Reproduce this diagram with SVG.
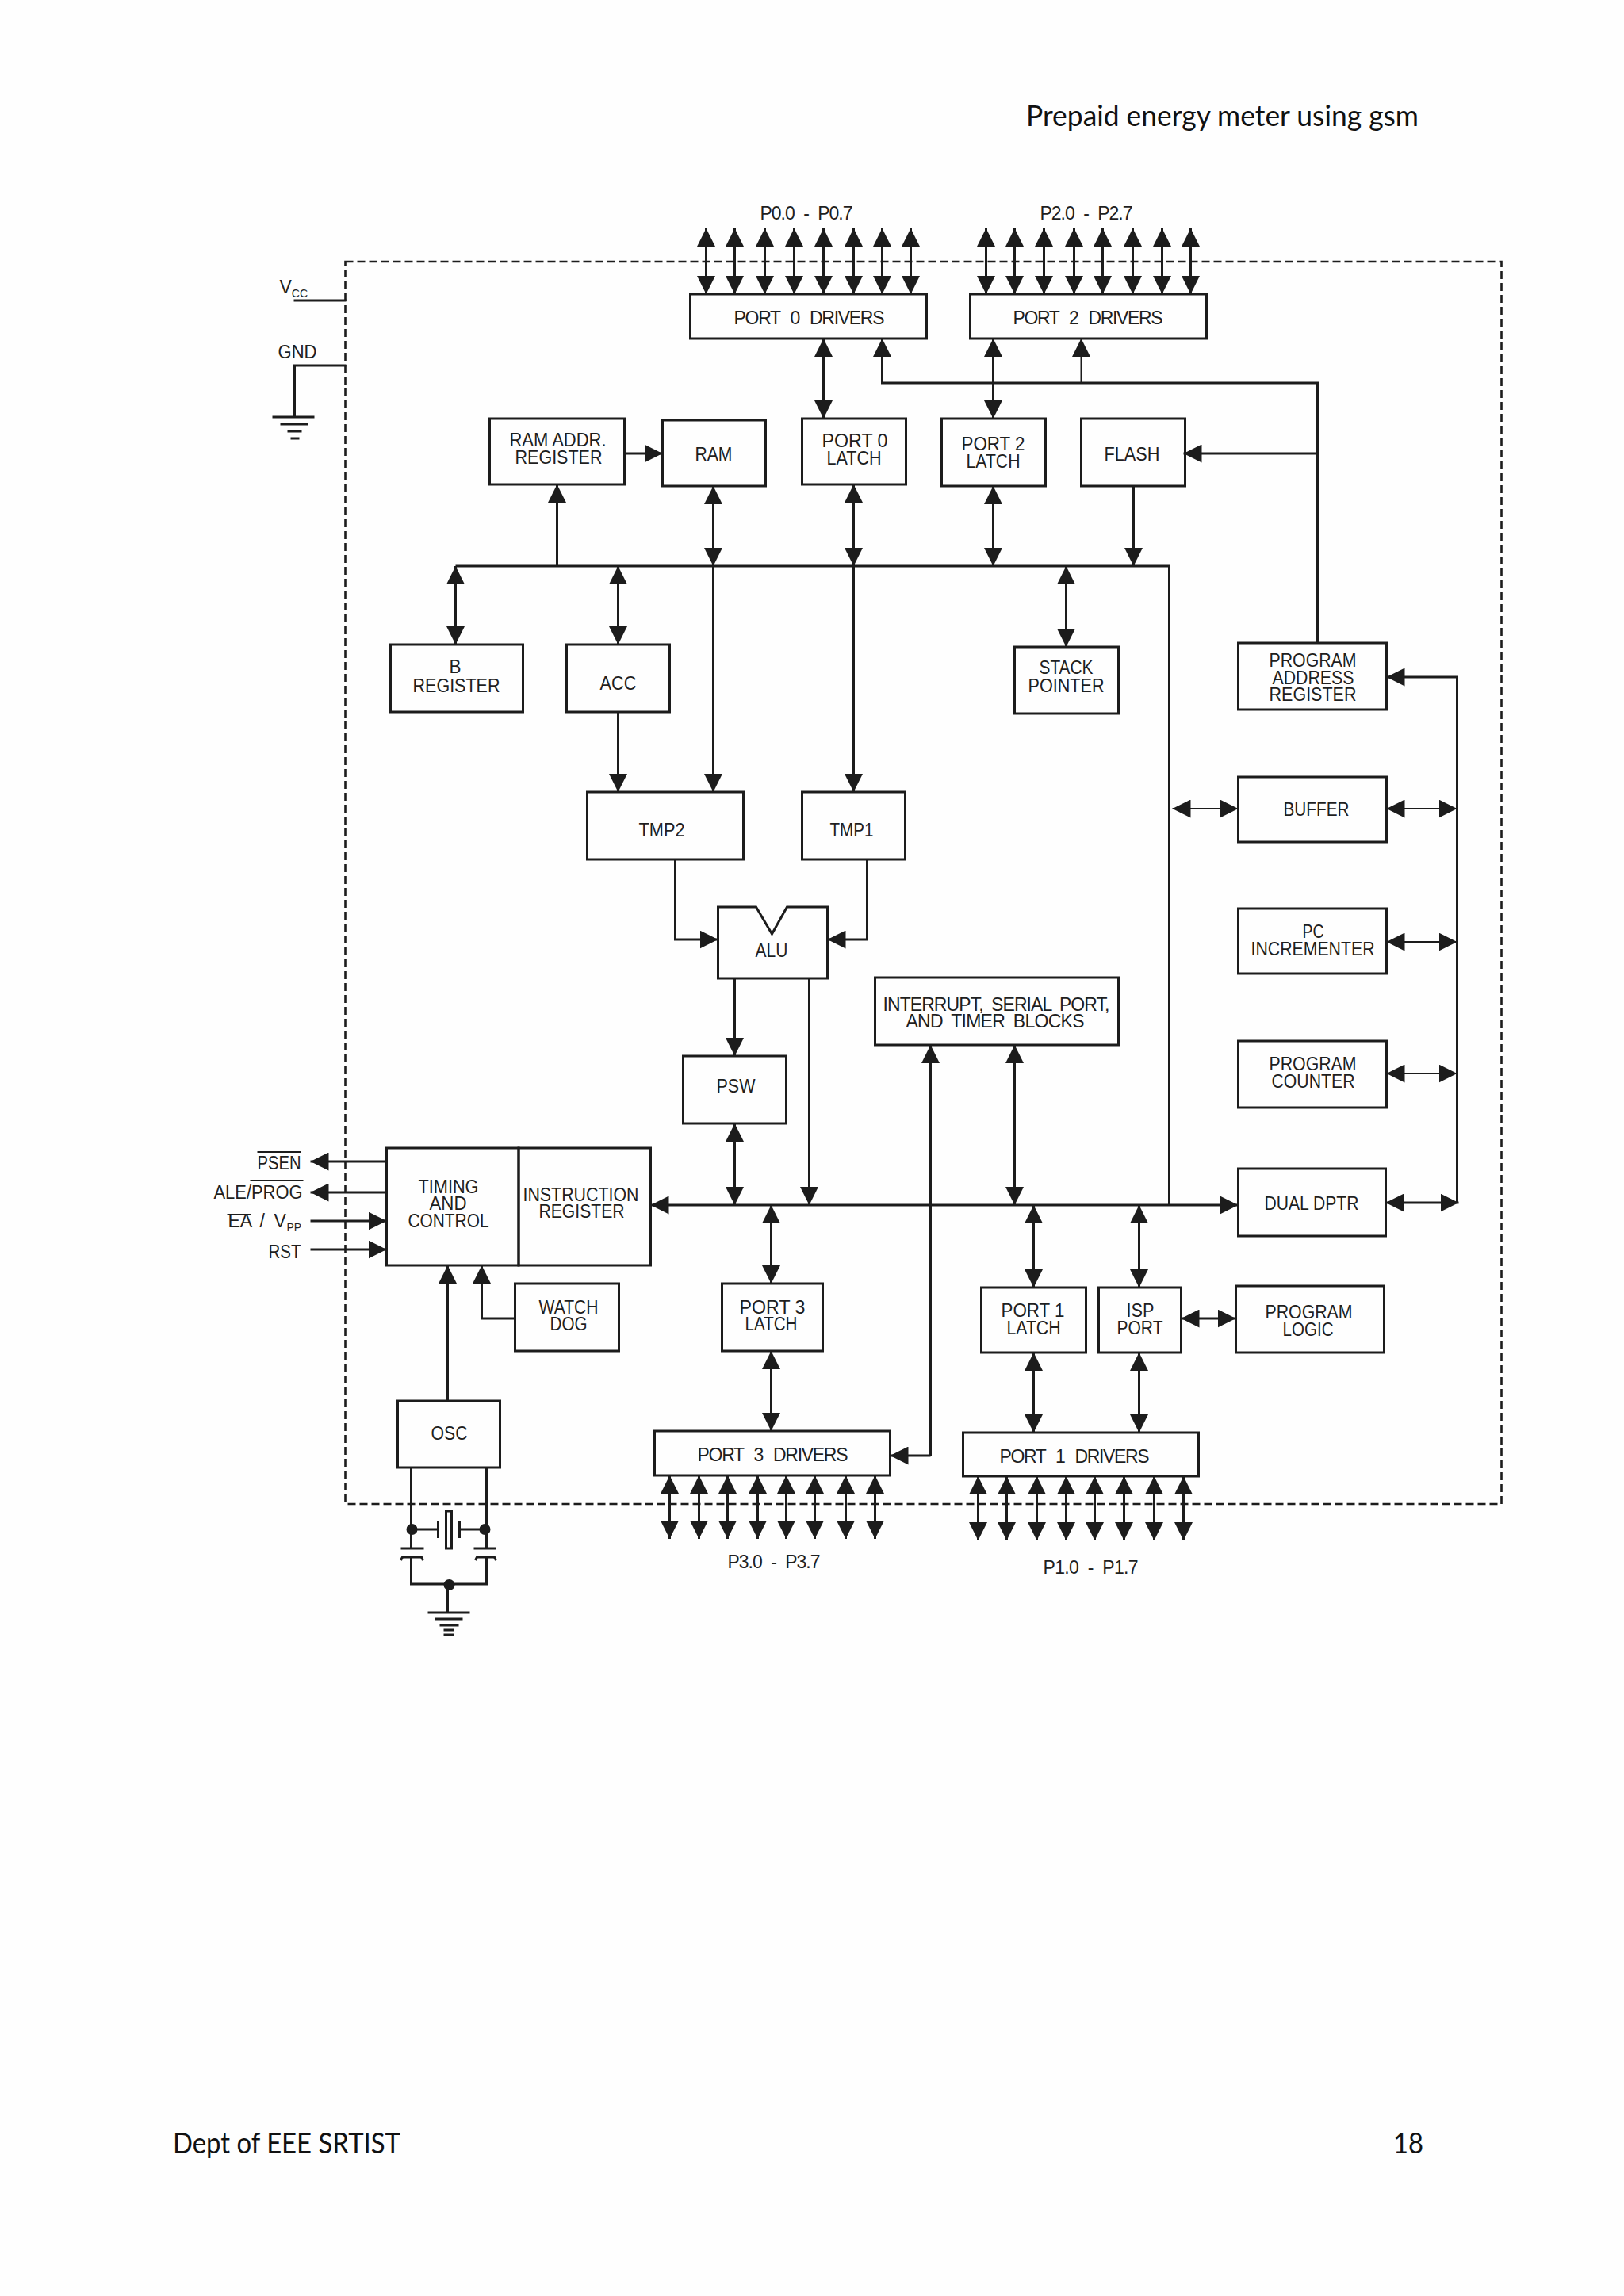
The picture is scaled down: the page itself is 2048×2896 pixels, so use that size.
<svg xmlns="http://www.w3.org/2000/svg" width="2048" height="2896" viewBox="0 0 2048 2896">
<style>
.b{fill:none;stroke:#1c1c1c;stroke-width:3}
.l{fill:none;stroke:#1c1c1c;stroke-width:3}
.n{fill:none;stroke:#1c1c1c;stroke-width:2}
.e{marker-end:url(#a)}
.s{marker-start:url(#a)}
.d{marker-start:url(#a);marker-end:url(#a)}
.f{fill:none;stroke:#1c1c1c;stroke-width:2.6;stroke-dasharray:10 5}
text{font-family:"Liberation Sans",Arial,sans-serif;font-size:23px;fill:#1f1f1f}
.p{font-family:Lato,"Open Sans",sans-serif;font-size:37px;fill:#111}
.dot{fill:#1c1c1c}
</style>
<defs>
<marker id="a" viewBox="0 0 22 22" refX="22" refY="11" markerWidth="23" markerHeight="23" markerUnits="userSpaceOnUse" orient="auto-start-reverse"><path d="M0 0L22 11L0 22Z" fill="#1c1c1c"/></marker>
<path id="p0" class="l d" d="M0 288V371"/>
<path id="p3" class="l d" d="M0 1861V1941"/>
<path id="p1" class="l d" d="M0 1862V1943"/>
</defs>
<rect width="2048" height="2896" fill="#fefefe"/>
<text class="p" x="1294" y="159" textLength="495" lengthAdjust="spacingAndGlyphs">Prepaid energy meter using gsm</text>
<text class="p" x="218" y="2716" textLength="287" lengthAdjust="spacingAndGlyphs">Dept of EEE SRTIST</text>
<text class="p" x="1757" y="2716" textLength="38" lengthAdjust="spacingAndGlyphs">18</text>

<g transform="translate(1.5 0)">
<rect id="boundary" class="f" x="434" y="330" width="1458" height="1567"/>

<g id="connectors">
<path class="l" d="M369 379H435M435 461H370V526"/>
<path class="l" d="M342 526H395M352 535H387M361 544H379M365 553H376"/>
<!-- port pins -->
<use href="#p0" x="889"/><use href="#p0" x="925"/><use href="#p0" x="963"/><use href="#p0" x="1000"/><use href="#p0" x="1037"/><use href="#p0" x="1075"/><use href="#p0" x="1111"/><use href="#p0" x="1147"/>
<use href="#p0" x="1242"/><use href="#p0" x="1278"/><use href="#p0" x="1315"/><use href="#p0" x="1353"/><use href="#p0" x="1389"/><use href="#p0" x="1427"/><use href="#p0" x="1464"/><use href="#p0" x="1500"/>
<use href="#p3" x="843"/><use href="#p3" x="880"/><use href="#p3" x="916"/><use href="#p3" x="954"/><use href="#p3" x="990"/><use href="#p3" x="1026"/><use href="#p3" x="1065"/><use href="#p3" x="1102"/>
<use href="#p1" x="1232"/><use href="#p1" x="1268"/><use href="#p1" x="1306"/><use href="#p1" x="1343"/><use href="#p1" x="1379"/><use href="#p1" x="1416"/><use href="#p1" x="1454"/><use href="#p1" x="1491"/>
<!-- top -->
<path class="l d" d="M1037 427V528"/>
<path class="l d" d="M1251 427V528"/>
<path class="l e" d="M1660 811V483H1111V427"/>
<path class="n e" d="M1362 483V427"/>
<path class="l e" d="M1660 572H1491"/>
<path class="l e" d="M786 572H834"/>
<path class="l e" d="M701 714V611"/>
<path class="l" d="M573 714H1473V1520"/>
<path class="l d" d="M898 613V714"/>
<path class="l e" d="M898 714V999"/>
<path class="l d" d="M1075 611V714"/>
<path class="l e" d="M1075 714V999"/>
<path class="l d" d="M1251 613V714"/>
<path class="l e" d="M1428 613V714"/>
<path class="l d" d="M573 714V813"/>
<path class="l d" d="M778 714V813"/>
<path class="l d" d="M1343 714V816"/>
<path class="l e" d="M778 898V999"/>
<path class="l e" d="M850 1084V1185H904"/>
<path class="l e" d="M1092 1084V1185H1042"/>
<path class="l e" d="M925 1234V1332"/>
<path class="l e" d="M1019 1234V1520"/>
<path class="l d" d="M925 1417V1520"/>
<path class="l d" d="M1278 1318V1520"/>
<path class="l e" d="M1172 1836V1318"/>
<path class="l e" d="M1172 1836H1121"/>
<!-- main bus -->
<path class="l d" d="M819 1520H1560"/>
<path class="l d" d="M971 1520V1619"/>
<path class="l d" d="M971 1704V1805"/>
<path class="l d" d="M1302 1520V1624"/>
<path class="l d" d="M1302 1706V1807"/>
<path class="l d" d="M1435 1520V1624"/>
<path class="l d" d="M1435 1706V1807"/>
<path class="l d" d="M1488 1663H1557"/>
<!-- right bus -->
<path class="l e" d="M1836 1517V854H1747"/>
<path class="n d" d="M1477 1020H1560"/>
<path class="n d" d="M1747 1020H1836"/>
<path class="n d" d="M1747 1188H1836"/>
<path class="n d" d="M1747 1354H1836"/>
<path class="l d" d="M1746 1517H1838"/>
<!-- timing -->
<path class="l e" d="M486 1465H390"/>
<path class="l e" d="M486 1504H390"/>
<path class="l e" d="M390 1540H486"/>
<path class="l e" d="M390 1576H486"/>
<path class="l e" d="M648 1663H606V1596"/>
<path class="l e" d="M563 1767V1596"/>
<!-- oscillator -->
<path class="l" d="M517 1851V1953M612 1851V1953M518 1929H551M578 1929H610"/>
<path class="l" d="M551 1918V1940M578 1918V1940M504 1953H533M596 1953H624"/>
<rect class="b" x="561" y="1906" width="7" height="47"/>
<path class="l" d="M504 1968L506 1964H530L532 1968M598 1968L600 1964H622L624 1968M517 1964V1998H612V1964M563 1998V2034"/>
<path class="l" d="M538 2034H591M547 2042H582M553 2050H577M558 2056H571M558 2062H571"/>
<circle class="dot" cx="518" cy="1929" r="7"/>
<circle class="dot" cx="610" cy="1929" r="7"/>
<circle class="dot" cx="565" cy="1999" r="7"/>
</g>

<g id="port0-drivers"><rect class="b" x="869" y="371" width="298" height="56"/><text x="924" y="409" textLength="190" lengthAdjust="spacing" word-spacing="8">PORT 0 DRIVERS</text></g>
<g id="port2-drivers"><rect class="b" x="1222" y="371" width="298" height="56"/><text x="1276" y="409" textLength="189" lengthAdjust="spacing" word-spacing="8">PORT 2 DRIVERS</text></g>
<g id="ram-addr"><rect class="b" x="616" y="528" width="170" height="83"/><text x="641" y="563" textLength="122" lengthAdjust="spacingAndGlyphs">RAM ADDR.</text><text x="648" y="585" textLength="110" lengthAdjust="spacingAndGlyphs">REGISTER</text></g>
<g id="ram"><rect class="b" x="834" y="530" width="130" height="83"/><text x="875" y="581" textLength="47" lengthAdjust="spacingAndGlyphs">RAM</text></g>
<g id="port0-latch"><rect class="b" x="1010" y="528" width="131" height="83"/><text x="1035" y="564" textLength="83" lengthAdjust="spacingAndGlyphs">PORT 0</text><text x="1041" y="586" textLength="69" lengthAdjust="spacingAndGlyphs">LATCH</text></g>
<g id="port2-latch"><rect class="b" x="1186" y="528" width="131" height="85"/><text x="1211" y="568" textLength="80" lengthAdjust="spacingAndGlyphs">PORT 2</text><text x="1217" y="590" textLength="68" lengthAdjust="spacingAndGlyphs">LATCH</text></g>
<g id="flash"><rect class="b" x="1362" y="528" width="131" height="85"/><text x="1391" y="581" textLength="70" lengthAdjust="spacingAndGlyphs">FLASH</text></g>
<g id="b-register"><rect class="b" x="491" y="813" width="167" height="85"/><text x="565" y="849" textLength="15" lengthAdjust="spacingAndGlyphs">B</text><text x="519" y="873" textLength="110" lengthAdjust="spacingAndGlyphs">REGISTER</text></g>
<g id="acc"><rect class="b" x="713" y="813" width="130" height="85"/><text x="755" y="870" textLength="46" lengthAdjust="spacingAndGlyphs">ACC</text></g>
<g id="stack-pointer"><rect class="b" x="1278" y="816" width="131" height="84"/><text x="1309" y="850" textLength="68" lengthAdjust="spacingAndGlyphs">STACK</text><text x="1295" y="873" textLength="96" lengthAdjust="spacingAndGlyphs">POINTER</text></g>
<g id="program-address-register"><rect class="b" x="1560" y="811" width="187" height="84"/><text x="1599" y="841" textLength="110" lengthAdjust="spacingAndGlyphs">PROGRAM</text><text x="1603" y="863" textLength="103" lengthAdjust="spacingAndGlyphs">ADDRESS</text><text x="1599" y="884" textLength="110" lengthAdjust="spacingAndGlyphs">REGISTER</text></g>
<g id="buffer"><rect class="b" x="1560" y="980" width="187" height="82"/><text x="1617" y="1029" textLength="83" lengthAdjust="spacingAndGlyphs">BUFFER</text></g>
<g id="pc-incrementer"><rect class="b" x="1560" y="1146" width="187" height="82"/><text x="1641" y="1183" textLength="27" lengthAdjust="spacingAndGlyphs">PC</text><text x="1576" y="1205" textLength="156" lengthAdjust="spacingAndGlyphs">INCREMENTER</text></g>
<g id="program-counter"><rect class="b" x="1560" y="1313" width="187" height="84"/><text x="1599" y="1350" textLength="110" lengthAdjust="spacingAndGlyphs">PROGRAM</text><text x="1602" y="1372" textLength="105" lengthAdjust="spacingAndGlyphs">COUNTER</text></g>
<g id="dual-dptr"><rect class="b" x="1560" y="1474" width="186" height="85"/><text x="1593" y="1526" textLength="119" lengthAdjust="spacingAndGlyphs">DUAL DPTR</text></g>
<g id="tmp2"><rect class="b" x="739" y="999" width="197" height="85"/><text x="804" y="1055" textLength="58" lengthAdjust="spacingAndGlyphs">TMP2</text></g>
<g id="tmp1"><rect class="b" x="1010" y="999" width="130" height="85"/><text x="1045" y="1055" textLength="55" lengthAdjust="spacingAndGlyphs">TMP1</text></g>
<g id="alu"><path class="b" d="M904 1144H952L972 1178L991 1144H1042V1234H904Z"/><text x="951" y="1207" textLength="41" lengthAdjust="spacingAndGlyphs">ALU</text></g>
<g id="interrupt"><rect class="b" x="1102" y="1233" width="307" height="85"/><text x="1112" y="1275" textLength="286" lengthAdjust="spacing" word-spacing="5">INTERRUPT, SERIAL PORT,</text><text x="1141" y="1296" textLength="225" lengthAdjust="spacing" word-spacing="5">AND TIMER BLOCKS</text></g>
<g id="psw"><rect class="b" x="860" y="1332" width="130" height="85"/><text x="902" y="1378" textLength="49" lengthAdjust="spacingAndGlyphs">PSW</text></g>
<g id="timing-control"><rect class="b" x="486" y="1448" width="166.500" height="148"/><text x="526" y="1505" textLength="76" lengthAdjust="spacingAndGlyphs">TIMING</text><text x="540" y="1526" textLength="47" lengthAdjust="spacingAndGlyphs">AND</text><text x="513" y="1548" textLength="102" lengthAdjust="spacingAndGlyphs">CONTROL</text></g>
<g id="instruction-register"><rect class="b" x="652.500" y="1448" width="166.500" height="148"/><text x="658" y="1515" textLength="146" lengthAdjust="spacingAndGlyphs">INSTRUCTION</text><text x="678" y="1536" textLength="108" lengthAdjust="spacingAndGlyphs">REGISTER</text></g>
<g id="watchdog"><rect class="b" x="648" y="1619" width="131" height="85"/><text x="678" y="1657" textLength="75" lengthAdjust="spacingAndGlyphs">WATCH</text><text x="692" y="1678" textLength="47" lengthAdjust="spacingAndGlyphs">DOG</text></g>
<g id="osc"><rect class="b" x="500" y="1767" width="129" height="84"/><text x="542" y="1816" textLength="46" lengthAdjust="spacingAndGlyphs">OSC</text></g>
<g id="port3-latch"><rect class="b" x="909" y="1619" width="127" height="85"/><text x="931" y="1657" textLength="83" lengthAdjust="spacingAndGlyphs">PORT 3</text><text x="938" y="1678" textLength="66" lengthAdjust="spacingAndGlyphs">LATCH</text></g>
<g id="port3-drivers"><rect class="b" x="824" y="1805" width="297" height="56"/><text x="878" y="1843" textLength="190" lengthAdjust="spacing" word-spacing="8">PORT 3 DRIVERS</text></g>
<g id="port1-latch"><rect class="b" x="1236" y="1624" width="132" height="82"/><text x="1261" y="1661" textLength="80" lengthAdjust="spacingAndGlyphs">PORT 1</text><text x="1268" y="1683" textLength="68" lengthAdjust="spacingAndGlyphs">LATCH</text></g>
<g id="isp-port"><rect class="b" x="1384" y="1624" width="104" height="82"/><text x="1419" y="1661" textLength="35" lengthAdjust="spacingAndGlyphs">ISP</text><text x="1407" y="1683" textLength="58" lengthAdjust="spacingAndGlyphs">PORT</text></g>
<g id="program-logic"><rect class="b" x="1557" y="1622" width="187" height="84"/><text x="1594" y="1663" textLength="110" lengthAdjust="spacingAndGlyphs">PROGRAM</text><text x="1616" y="1685" textLength="64" lengthAdjust="spacingAndGlyphs">LOGIC</text></g>
<g id="port1-drivers"><rect class="b" x="1213" y="1807" width="297" height="55"/><text x="1259" y="1845" textLength="189" lengthAdjust="spacing" word-spacing="8">PORT 1 DRIVERS</text></g>

<g id="labels">
<text x="957" y="277" textLength="117" lengthAdjust="spacing" word-spacing="6">P0.0 - P0.7</text>
<text x="1310" y="277" textLength="117" lengthAdjust="spacing" word-spacing="6">P2.0 - P2.7</text>
<text x="916" y="1978" textLength="117" lengthAdjust="spacing" word-spacing="6">P3.0 - P3.7</text>
<text x="1314" y="1985" textLength="120" lengthAdjust="spacing" word-spacing="6">P1.0 - P1.7</text>
<text x="351" y="370">V<tspan dy="5" font-size="14">CC</tspan></text>
<text x="349" y="452" textLength="49" lengthAdjust="spacingAndGlyphs">GND</text>
<text x="323" y="1475" textLength="55" lengthAdjust="spacingAndGlyphs">PSEN</text>
<text x="268" y="1512" textLength="112" lengthAdjust="spacingAndGlyphs">ALE/PROG</text>
<text y="1548"><tspan x="286">EA</tspan><tspan x="326">/</tspan><tspan x="344">V</tspan><tspan x="360" dy="5" font-size="14">PP</tspan></text>
<text x="337" y="1587" textLength="41" lengthAdjust="spacingAndGlyphs">RST</text>
<path class="n" d="M323 1453H378M314 1489H381M285 1532H315"/>
</g>
</g>
</svg>
